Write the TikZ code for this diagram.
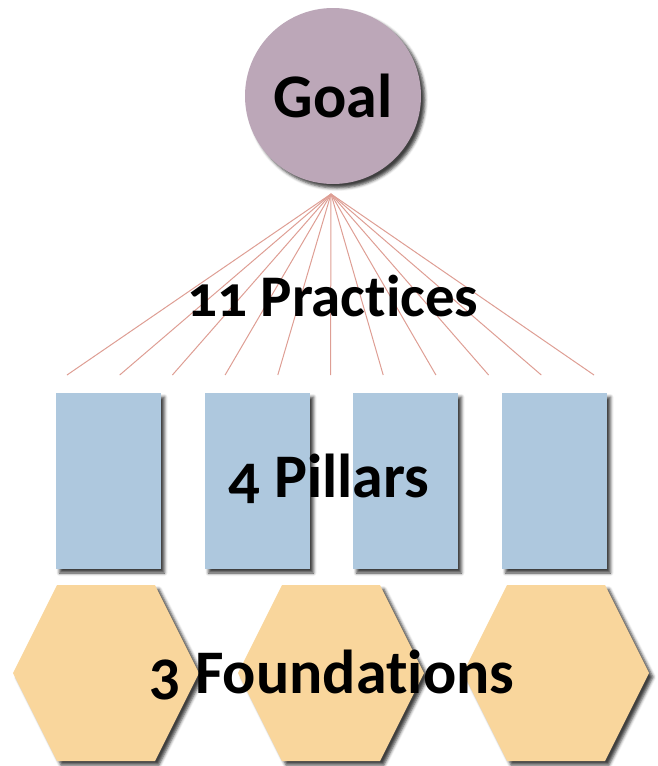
\documentclass[tikz,border=0pt]{standalone}
\usepackage{fontspec}
\setmainfont{Carlito}[Numbers=OldStyle,Ligatures={NoCommon,NoDiscretionary,NoRare}]
\usetikzlibrary{shadows.blur}

\definecolor{goalfill}{RGB}{188,167,184}
\definecolor{pillarfill}{RGB}{174,200,222}
\definecolor{foundfill}{RGB}{249,214,156}
\definecolor{practline}{RGB}{222,158,148}

\begin{document}
\begin{tikzpicture}
[x=1pt,y=-1pt,
 sh/.style={blur shadow={shadow xshift=4pt,shadow yshift=-4pt,shadow blur radius=3pt,shadow opacity=75}},
 goal/.style={circle,fill=goalfill,minimum size=176pt,inner sep=0pt,sh},
 pillar/.style={rectangle,fill=pillarfill,minimum width=105pt,minimum height=176pt,inner sep=0pt,sh},
 found/.style={fill=foundfill,sh},
 practice/.style={draw=practline,line width=1pt},
 label/.style={font=\bfseries\fontsize{62}{62}\selectfont,inner sep=0pt}]
\useasboundingbox (0,0) rectangle (658,766);

\node[goal] (goal) at (333,96) {};
\coordinate (apex) at (331,194);

% practices
\foreach \i in {1,...,11}
  \coordinate (p\i) at ({67+52.7*(\i-1)},375);
\foreach \i in {1,...,11}
  \draw[practice] (apex) -- (p\i);

% pillars
\node[pillar] (pillarA) at (108,481) {};
\node[pillar] (pillarB) at (257,481) {};
\node[pillar] (pillarC) at (405,481) {};
\node[pillar] (pillarD) at (554,481) {};

% foundations
\foreach \n/\cx in {A/106,B/331,C/556}{
  \coordinate (found\n) at (\cx,673);
  \fill[found] (found\n) +(-93,0) -- +(-49,-88) -- +(49,-88) -- +(93,0)
    -- +(49,88) -- +(-49,88) -- cycle;
}

\node[label] (goaltext) at (goal) {Goal};
\node[label] (practext) at (333,296) {\fontsize{59}{59}\selectfont 11 Practices};
\node[label] (pillartext) at (329,479) {4 Pillars};
\node[label] (foundtext) at (332,675) {3 Foundations};

\end{tikzpicture}
\end{document}
